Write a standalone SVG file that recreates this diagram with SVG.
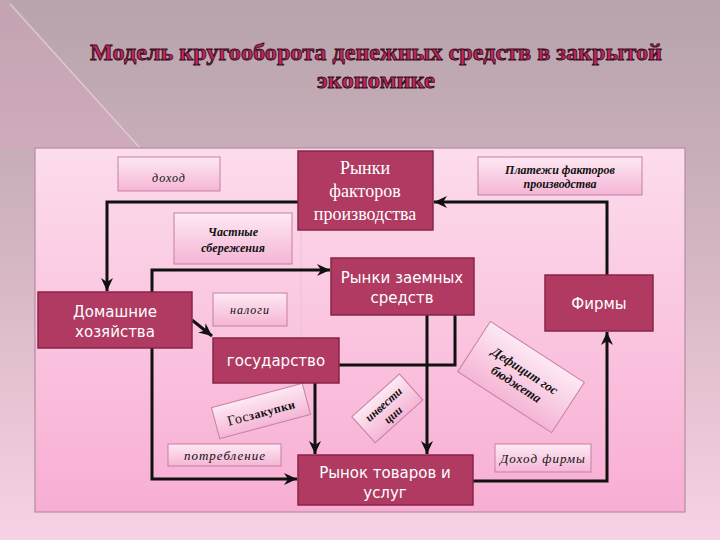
<svg xmlns="http://www.w3.org/2000/svg" width="720" height="540" viewBox="0 0 720 540">
<defs>
<linearGradient id="bg" x1="0" y1="0" x2="0" y2="1">
<stop offset="0" stop-color="#b6a3ab"/>
<stop offset="0.45" stop-color="#d3b4c2"/>
<stop offset="1" stop-color="#f7d2e4"/>
</linearGradient>
<linearGradient id="panel" x1="0" y1="0" x2="0" y2="1">
<stop offset="0" stop-color="#fcdcec"/>
<stop offset="1" stop-color="#f8aed3"/>
</linearGradient>
<linearGradient id="lbl" x1="0" y1="0" x2="0" y2="1">
<stop offset="0" stop-color="#fde9f3"/>
<stop offset="1" stop-color="#f5b5d5"/>
</linearGradient>
<marker id="arr" markerUnits="userSpaceOnUse" markerWidth="14" markerHeight="12" refX="13" refY="6" orient="auto">
<path d="M0,0 L13,6 L0,12 L4,6 Z" fill="#111"/>
</marker>
<style>
.node rect{fill:#b03a62;stroke:#8a2448;stroke-width:1.5}
.sans{font-family:"DejaVu Sans","Liberation Sans",sans-serif;font-size:15px;fill:#fff;text-anchor:middle}
.serifw{font-family:"Liberation Serif","DejaVu Serif",serif;font-size:18px;fill:#fff;text-anchor:middle}
.lab rect{fill:url(#lbl);stroke:#c77fa3;stroke-width:1}
.it{font-family:"Liberation Serif","DejaVu Serif",serif;font-style:italic;font-size:12px;fill:#111;text-anchor:middle;letter-spacing:1px}
.bi{font-family:"Liberation Serif","DejaVu Serif",serif;font-style:italic;font-weight:bold;font-size:12px;fill:#111;text-anchor:middle}
.con path{fill:none;stroke:#111;stroke-width:3}
.title{font-family:"Liberation Serif","DejaVu Serif",serif;font-weight:bold;font-size:24px;fill:#c2275f;stroke:#3a0b1c;stroke-width:0.9;text-anchor:middle}
</style>
</defs>
<rect x="0" y="0" width="720" height="540" fill="url(#bg)"/>
<polygon points="0,0 10,0 140,148 0,148" fill="#e9a3c6" opacity="0.25"/>
<line x1="10" y1="4" x2="140" y2="148" stroke="#e8d6de" stroke-width="1.2" opacity="0.8"/>
<g id="title">
<text class="title" x="376" y="60" textLength="572" lengthAdjust="spacingAndGlyphs">Модель  кругооборота денежных средств в закрытой</text>
<text class="title" x="376" y="88" textLength="118" lengthAdjust="spacingAndGlyphs">экономике</text>
</g>
<rect x="35" y="148" width="650" height="364" fill="url(#panel)" stroke="#b58ca0" stroke-width="1.2"/>
<line x1="301" y1="232" x2="301" y2="338" stroke="#e9c2d6" stroke-width="1"/>

<g id="lbl-dohod" class="lab"><rect x="118" y="157" width="102" height="34"/><text class="it" x="169" y="182">доход</text></g>
<g id="lbl-sber" class="lab"><rect x="174" y="213" width="118" height="51"/><text class="bi" x="233" y="236">Частные</text><text class="bi" x="233" y="252">сбережения</text></g>
<g id="lbl-nalogi" class="lab"><rect x="213" y="293" width="74" height="33"/><text class="it" x="250" y="314">налоги</text></g>
<g id="lbl-plat" class="lab"><rect x="478" y="157" width="164" height="38"/><text class="bi" x="560" y="174">Платежи факторов</text><text class="bi" x="560" y="188">производства</text></g>
<g id="lbl-potr" class="lab"><rect x="168" y="444" width="113" height="22"/><text class="it" x="225" y="460" style="font-size:13px">потребление</text></g>
<g id="lbl-dohodf" class="lab"><rect x="495" y="444" width="96" height="28"/><text class="it" x="543" y="463" style="font-size:13px">Доход фирмы</text></g>
<g id="lbl-goszak" class="lab" transform="translate(261,411) rotate(-15)"><rect x="-47" y="-16" width="94" height="32"/><text x="0" y="6" style="font-family:'Liberation Serif',serif;font-size:14px;fill:#111;text-anchor:middle;letter-spacing:0.5px">Гос<tspan style="font-weight:bold;font-size:12px">закупки</tspan></text></g>
<g id="lbl-invest" class="lab" transform="translate(387,408) rotate(-42)"><rect x="-32" y="-17" width="64" height="35"/><text class="bi" x="0" y="-1">инвести</text><text class="bi" x="0" y="13">ции</text></g>
<g id="lbl-deficit" class="lab" transform="translate(521,377) rotate(33)"><rect x="-56" y="-30" width="112" height="60"/><text class="bi" x="0" y="-3" style="font-size:13px">Дефицит гос</text><text class="bi" x="0" y="13" style="font-size:13px">бюджета</text></g>

<g id="connectors" class="con">
<path d="M298,202 H107 V291" marker-end="url(#arr)"/>
<path d="M607,275 V202 H434" marker-end="url(#arr)"/>
<path d="M152,292 V270 H330" marker-end="url(#arr)"/>
<path d="M192,320 L212,336" marker-end="url(#arr)"/>
<path d="M152,348 V479 H297" marker-end="url(#arr)"/>
<path d="M315,383 V454" marker-end="url(#arr)"/>
<path d="M427,315 V454" marker-end="url(#arr)"/>
<path d="M455,315 V365 H339"/>
<path d="M473,481 H607 V332" marker-end="url(#arr)"/>
</g>

<g id="n-factors" class="node"><rect x="298" y="151" width="135" height="79"/><text class="serifw" x="365" y="174">Рынки</text><text class="serifw" x="365" y="197">факторов</text><text class="serifw" x="365" y="220">производства</text></g>
<g id="n-loan" class="node"><rect x="331" y="258" width="143" height="57"/><text class="sans" x="402" y="283">Рынки заемных</text><text class="sans" x="402" y="303">средств</text></g>
<g id="n-firms" class="node"><rect x="545" y="275" width="108" height="56"/><text class="sans" x="599" y="309">Фирмы</text></g>
<g id="n-house" class="node"><rect x="38" y="292" width="154" height="56"/><text class="sans" x="115" y="317">Домашние</text><text class="sans" x="115" y="337">хозяйства</text></g>
<g id="n-gov" class="node"><rect x="213" y="338" width="126" height="45"/><text class="sans" x="276" y="366">государство</text></g>
<g id="n-goods" class="node"><rect x="298" y="455" width="175" height="50"/><text class="sans" x="385" y="478">Рынок товаров и</text><text class="sans" x="385" y="498">услуг</text></g>
</svg>
